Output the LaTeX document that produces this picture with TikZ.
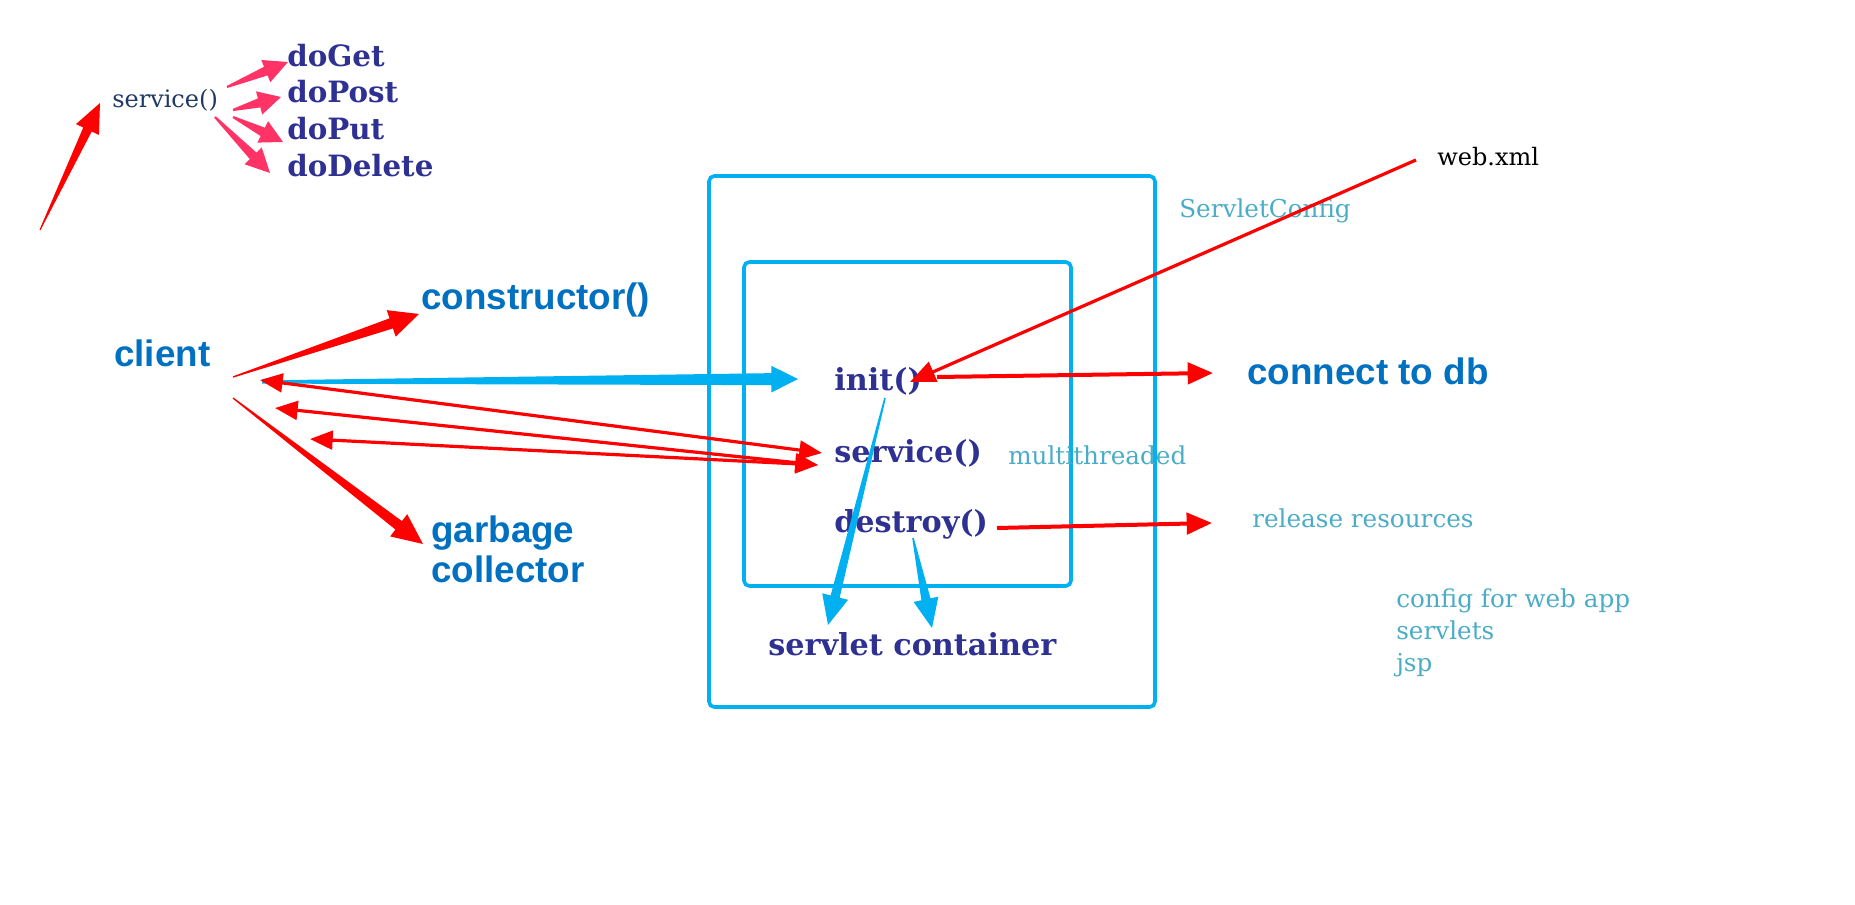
\documentclass[tikz,border=0pt]{standalone}
\usepackage{fontspec}
\setmainfont{DejaVu Serif}
\setsansfont{Liberation Sans}
\usetikzlibrary{calc,arrows.meta}
\definecolor{cblue}{HTML}{0070C0}
\definecolor{indigo}{HTML}{2E3192}
\definecolor{lteal}{HTML}{4BACC6}
\definecolor{navy}{HTML}{203864}
\definecolor{boxblue}{HTML}{00B0F0}
\definecolor{pinkred}{HTML}{FF3366}
\definecolor{ared}{HTML}{FF0000}
% tapered arrow: tail, tip, head length, head half width, shaft half width, tail half width, colour
\newcommand\taper[7]{%
  \path ($(#2)!#3!(#1)$) coordinate (hb);
  \fill[#7] ($(#1)!#6!90:(#2)$) -- ($(hb)!#5!90:(#2)$) -- ($(hb)!#4!90:(#2)$) -- (#2)
    -- ($(hb)!#4!-90:(#2)$) -- ($(hb)!#5!-90:(#2)$) -- ($(#1)!#6!-90:(#2)$) -- cycle;
}
\begin{document}
\begin{tikzpicture}[x=0.75pt,y=-0.75pt,
  boxline/.style={draw=boxblue, line width=2.7pt, rounded corners=4pt},
  lbl/.style={inner sep=0pt, anchor=west},
  sb/.style={lbl, text=cblue, font=\sffamily\bfseries\fontsize{27.6}{30}\selectfont, align=left},
  mb/.style={lbl, text=indigo, font=\bfseries\fontsize{22.7}{27}\selectfont},
  db/.style={lbl, text=indigo, font=\bfseries\fontsize{22}{26}\selectfont},
  lt/.style={lbl, text=lteal, font=\fontsize{18.5}{24}\selectfont, align=left},
  wx/.style={lbl, text=black, font=\fontsize{18}{22}\selectfont},
  nv/.style={lbl, text=navy, font=\fontsize{18}{22}\selectfont},
  redline/.style={draw=ared, line width=2.4pt},
  rtip/.tip={Triangle[length=17pt,width=14pt]},
  rtipb/.tip={Triangle[length=19pt,width=16pt]}
]
\useasboundingbox (0,0) rectangle (1855,905);

% containers
\draw[boxline] (709,176) rectangle (1155,707);
\draw[boxline] (744,262) rectangle (1071,586);

% texts
\node[nv] (svc0) at (112,100) {service()};
\node[db] (doget) at (287,56) {doGet};
\node[db] (dopost) at (287,92) {doPost};
\node[db] (doput) at (287,129) {doPut};
\node[db] (dodel) at (287,166) {doDelete};

\node[sb] (client) at (114,353) {client};
\node[sb] (ctor) at (421,300) {constructor()};
\node[sb] (gc) at (431,549) {garbage\\collector};
\node[sb] (db) at (1247,371) {connect to db};

\node[mb] (init) at (834,381) {init()};
\node[mb] (svc) at (834,453) {service()};
\node[mb] (destroy) at (834,524) {destroy()};
\node[mb] (cont) at (768,644) {servlet container};

\node[lt] (mt) at (1008,455) {multithreaded};
\node[lt] (rel) at (1252,518) {release resources};
\node[lt] (sc) at (1179,211) {ServletConfig};
\node[lt] (cfg) at (1396,633) {config for web app\\servlets\\jsp};
\node[wx] (web) at (1437,157) {web.xml};

% connector end points
\coordinate (r0t) at (40,230);   \coordinate (r0h) at (100,103);
\coordinate (p1t) at (227,87);   \coordinate (p1h) at (288,62);
\coordinate (p2t) at (233,110);  \coordinate (p2h) at (281,97);
\coordinate (p3t) at (233,117);  \coordinate (p3h) at (283,142);
\coordinate (p4t) at (215,117);  \coordinate (p4h) at (270,173);
\coordinate (ct) at (233,377);   \coordinate (ch) at (419,314);
\coordinate (gt) at (233,398);   \coordinate (gh) at (423,544);
\coordinate (bt) at (262,382);   \coordinate (bh) at (798,379);
\coordinate (c1) at (260,380);   \coordinate (s1) at (822,453);
\coordinate (c2) at (275,408);   \coordinate (s2) at (818,465);
\coordinate (c3) at (310,439);
\coordinate (wt) at (1416,160);  \coordinate (ih) at (910,382);
\coordinate (it) at (937,377);   \coordinate (dbh) at (1213,373);
\coordinate (dt) at (997,528);   \coordinate (rh) at (1212,523);
\coordinate (d1t) at (885,398);  \coordinate (d1h) at (828,625);
\coordinate (d2t) at (913,538);  \coordinate (d2h) at (932,628);

% top-left arrows
\taper{r0t}{r0h}{22pt}{9.5pt}{3.5pt}{0.4pt}{ared}
\taper{p1t}{p1h}{18pt}{9pt}{3.5pt}{0.8pt}{pinkred}
\taper{p2t}{p2h}{17pt}{9pt}{3.5pt}{0.8pt}{pinkred}
\taper{p3t}{p3h}{17pt}{9pt}{3.5pt}{0.8pt}{pinkred}
\taper{p4t}{p4h}{18pt}{9pt}{3.5pt}{0.8pt}{pinkred}

% client arrows
\taper{ct}{ch}{22pt}{10.5pt}{4pt}{0.5pt}{ared}
\taper{gt}{gh}{23pt}{10.5pt}{4pt}{0.5pt}{ared}
\taper{bt}{bh}{20pt}{10pt}{4.5pt}{1.2pt}{boxblue}

\draw[redline, rtip-rtip] (s1) -- (c1);
\draw[redline, rtip-rtip] (s2) -- (c2);
\draw[redline, rtip-rtip] (s2) -- (c3);

% right-hand arrows
\draw[redline, -rtipb] (wt) -- (ih);
\draw[redline, line width=3pt, -rtipb] (it) -- (dbh);
\draw[redline, line width=3pt, -rtipb] (dt) -- (rh);

% to servlet container
\taper{d1t}{d1h}{22pt}{10pt}{3.5pt}{0.6pt}{boxblue}
\taper{d2t}{d2h}{22pt}{9.5pt}{3.5pt}{0.6pt}{boxblue}
\end{tikzpicture}
\end{document}
